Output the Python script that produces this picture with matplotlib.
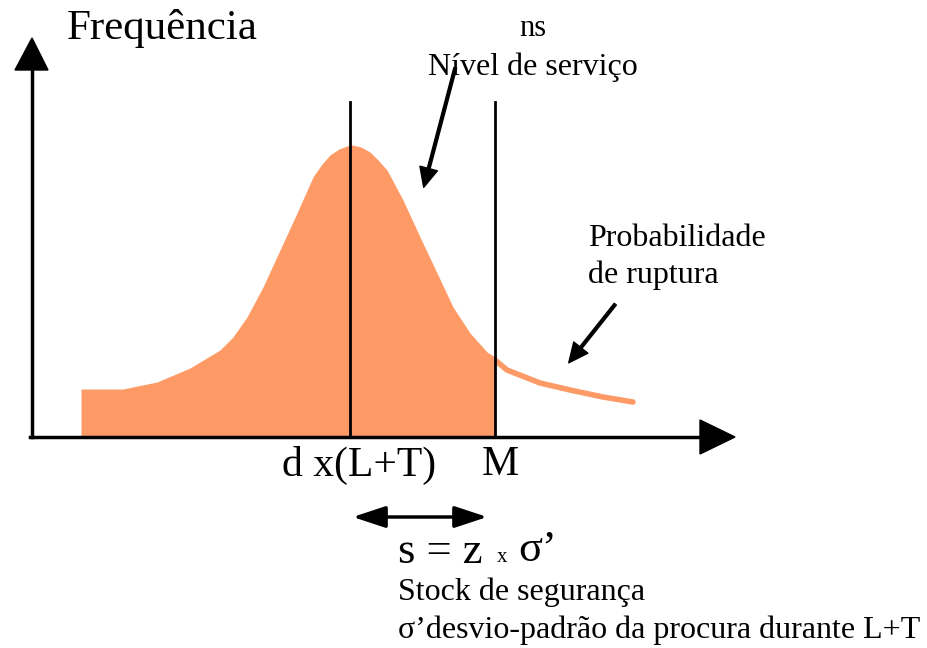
import matplotlib.pyplot as plt
import numpy as np
from matplotlib.patches import FancyArrowPatch

plt.rcParams['font.family'] = ['Liberation Serif', 'DejaVu Serif']

# curve (image pixel units, y down)
curve_x = [81, 123, 157, 190, 220, 233, 247, 263, 280, 297, 313, 322, 330, 339, 347, 352,
           361, 370, 378, 387, 403, 420, 437, 453, 470, 487, 495]
curve_y = [389, 389, 382, 368, 350, 337, 317, 287, 250, 213, 177, 164, 155, 149, 146, 145,
           147, 152, 160, 170, 200, 237, 273, 307, 333, 352, 357]
tail_x = [495, 507, 540, 570, 603, 633]
tail_y = [360, 370, 383, 390, 397, 402]
mean_x = 350
m_x = 495
base_y = 437
fill_col = '#FE9A66'

fig = plt.figure(figsize=(9.28, 6.48), dpi=100)
ax = fig.add_axes([0, 0, 1, 1])
ax.set_xlim(0, 928)
ax.set_ylim(648, 0)
ax.axis('off')

# filled area
ax.fill_between(curve_x, curve_y, base_y, color=fill_col, lw=0)
ax.plot(tail_x, tail_y, color=fill_col, lw=4, solid_capstyle='round')

# axes arrows
ax.plot([30, 705], [base_y, base_y], color='black', lw=2.5)
ax.fill([700, 735, 700], [420, 437, 454], color='black')
ax.plot([32, 32], [base_y, 68], color='black', lw=2.5)
ax.fill([15, 32, 48], [70, 38, 70], color='black')

# vertical lines
ax.plot([mean_x, mean_x], [102, base_y], color='black', lw=2)
ax.plot([m_x, m_x], [102, base_y], color='black', lw=2)

# texts
ax.text(67, 28, 'Frequência', fontsize=31, va='center', ha='left')
ax.text(533, 28, 'ns', fontsize=22, va='center', ha='center')
ax.text(533, 67, 'Nível de serviço', fontsize=23, va='center', ha='center')
ax.text(588, 239, 'Probabilidade', fontsize=23, va='center', ha='left')
ax.text(588, 275, 'de ruptura', fontsize=23, va='center', ha='left')
ax.text(359, 465, 'd x(L+T)', fontsize=30, va='center', ha='center')
ax.text(500, 465, 'M', fontsize=30, va='center', ha='center')

# arrows
hs = 'Simple,head_length=14,head_width=13,tail_width=2'
ax.add_patch(FancyArrowPatch((456, 65), (423, 190), arrowstyle=hs, color='black'))
ax.add_patch(FancyArrowPatch((617, 302), (567, 365), arrowstyle=hs, color='black'))
ax.add_patch(FancyArrowPatch((350, 517), (490, 517), arrowstyle='<|-|>,head_length=1.0,head_width=0.33',
                             mutation_scale=20, lw=2.5, color='black'))

# formula
ax.text(398, 552, 's = z', fontsize=32, va='center', ha='left')
ax.text(497, 558, 'x', fontsize=15, va='center', ha='left')
ax.text(518, 550, 'σ’', fontsize=32, va='center', ha='left')
ax.text(398, 592, 'Stock de segurança', fontsize=23, va='center', ha='left')
ax.text(398, 630, 'σ’desvio-padrão da procura durante L+T', fontsize=23, va='center', ha='left')

fig.savefig('out.png', dpi=100)
